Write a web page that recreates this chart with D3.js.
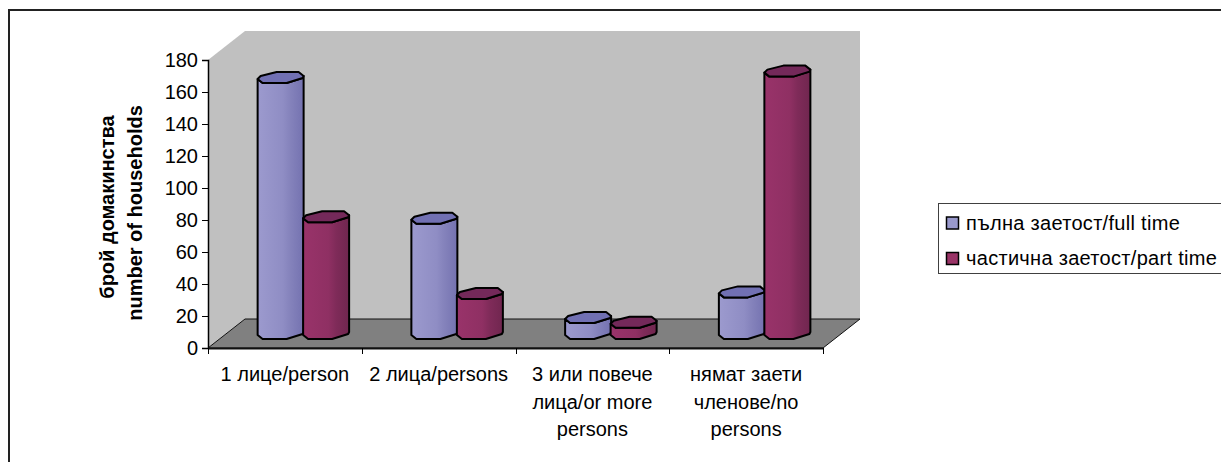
<!DOCTYPE html>
<html>
<head>
<meta charset="utf-8">
<script src="https://cdn.jsdelivr.net/npm/d3@7"></script>
<style>
html, body { margin: 0; padding: 0; background: #fff; overflow: hidden; }
text { font-family: "Liberation Sans", Arial, sans-serif; fill: #000; }
</style>
</head>
<body>
<div id="chart"></div>
<script>
// chart data
var categories = ["1 лице/person", "2 лица/persons", "3 или повече лица/or more persons", "нямат заети членове/no persons"];
var categoryLines = [["1 лице/person"], ["2 лица/persons"], ["3 или повече", "лица/or more", "persons"], ["нямат заети", "членове/no", "persons"]];
var seriesNames = ["пълна заетост/full time", "частична заетост/part time"];
var fullTime = [160, 72, 10, 26];
var partTime = [73, 25, 7, 164];
var yTicks = [0, 20, 40, 60, 80, 100, 120, 140, 160, 180];
var axisTitle = ["брой домакинства", "number of households"];

var w = 1221, h = 462;
var depth = {x: 37, y: -29};   // oblique offset front edge -> back wall

var svg = d3.select("#chart").append("svg")
    .attr("width", w)
    .attr("height", h)
    .style("display", "block");

// outer frame, runs off the right and bottom of the picture
svg.append("rect").attr("x", 9).attr("y", 10).attr("width", 1300).attr("height", 500)
    .attr("fill", "#fff").attr("stroke", "#222").attr("stroke-width", 2);

// scales
var x = d3.scaleBand().domain(categories).range([208, 823]);
var y = d3.scaleLinear().domain([0, 180]).range([348, 60]);
var inner = d3.scaleBand().domain([0, 1]).range([-45.5, 45.5]);

// gradients for the bar faces
var defs = svg.append("defs");
function gradient(id, stops) {
    var g = defs.append("linearGradient").attr("id", id);
    stops.forEach(function (s) {
        g.append("stop").attr("offset", s[0]).attr("stop-color", s[1]);
    });
}
gradient("blueFace", [[0, "#9c9ace"], [0.55, "#8f8dc4"], [0.72, "#8482bb"], [1, "#7472b0"]]);
gradient("redFace", [[0, "#99336a"], [0.55, "#8f3063"], [0.72, "#7f2b59"], [1, "#70264f"]]);
var topColor = ["#7170b3", "#74295a"];
var faces = ["url(#blueFace)", "url(#redFace)"];

// walls and floor
var x0 = x.range()[0], x1 = x.range()[1], yBase = y(0), yTop = y(180);
function pts(a) { return a.map(function (p) { return p.join(","); }).join(" "); }

svg.append("polygon")
    .attr("points", pts([[x0, yBase], [x0 + depth.x, yBase + depth.y], [x0 + depth.x, yTop + depth.y], [x0, yTop]]))
    .attr("fill", "#c0c0c0");
svg.append("polygon")
    .attr("points", pts([[x0 + depth.x, yBase + depth.y], [x1 + depth.x, yBase + depth.y], [x1 + depth.x, yTop + depth.y], [x0 + depth.x, yTop + depth.y]]))
    .attr("fill", "#c0c0c0");
svg.append("polygon")
    .attr("points", pts([[x0, yBase], [x1, yBase], [x1 + depth.x, yBase + depth.y], [x0 + depth.x, yBase + depth.y]]))
    .attr("fill", "#808080")
    .attr("stroke", "#111")
    .attr("stroke-width", 1);

// y axis
svg.append("g")
    .attr("transform", "translate(" + x0 + ",0)")
    .call(d3.axisLeft(y).tickValues(yTicks).tickSize(6).tickPadding(4))
    .call(function (g) {
        g.selectAll("text").style("font-size", "20px").attr("fill", "#000");
        g.selectAll("line").attr("stroke", "#000");
        g.select("path").attr("stroke", "#000").attr("stroke-width", 1.5);
    });

// x axis, ticks fall between the categories
var xAxis = svg.append("g");
xAxis.append("line").attr("x1", x0).attr("x2", x1).attr("y1", yBase + 0.5).attr("y2", yBase + 0.5)
    .attr("stroke", "#111").attr("stroke-width", 2);
xAxis.selectAll(".tick").data(d3.range(categories.length + 1)).enter().append("line")
    .attr("x1", function (i) { return Math.round(x0 + i * x.step()) + 0.5; })
    .attr("x2", function (i) { return Math.round(x0 + i * x.step()) + 0.5; })
    .attr("y1", yBase)
    .attr("y2", yBase + 6)
    .attr("stroke", "#000");

categories.forEach(function (c, i) {
    var t = svg.append("text")
        .attr("text-anchor", "middle")
        .style("font-size", "20px")
        .attr("y", 381);
    categoryLines[i].forEach(function (line, j) {
        t.append("tspan")
            .attr("x", x(c) + x.bandwidth() / 2)
            .attr("dy", j == 0 ? 0 : 27.5)
            .text(line);
    });
});

// y axis title
axisTitle.forEach(function (line, i) {
    svg.append("text")
        .attr("transform", "translate(" + (114 + i * 28) + "," + (207 + i * 6) + ") rotate(-90)")
        .attr("text-anchor", "middle")
        .style("font-size", "20px")
        .style("font-weight", "bold")
        .text(line);
});

// octagonal column outline, offsets from the column centre
var topOct = [[-23, 1.5], [-20, -1.5], [-4, -5.5], [18, -5.5], [23, -1.5], [22, 0.5], [6, 5.5], [-18, 5.5]];
var lowerOct = [[-23, 1.5], [-18, 5.5], [6, 5.5], [22, 0.5], [23, -1.5]];

function drawColumn(g, cx, yVal, yFloor, s) {
    var body = lowerOct.map(function (p) { return [cx + p[0], yVal + p[1]]; })
        .concat(lowerOct.slice().reverse().map(function (p) { return [cx + p[0], yFloor + p[1]]; }));
    g.append("polygon")
        .attr("points", pts(body))
        .attr("fill", faces[s])
        .attr("stroke", "#000")
        .attr("stroke-width", 2)
        .attr("stroke-linejoin", "round");
    g.append("polygon")
        .attr("points", pts(topOct.map(function (p) { return [cx + p[0], yVal + p[1]]; })))
        .attr("fill", topColor[s])
        .attr("stroke", "#000")
        .attr("stroke-width", 2)
        .attr("stroke-linejoin", "round");
}

// columns stand mid way into the floor
var seriesValues = [fullTime, partTime];
var barsG = svg.append("g");
categories.forEach(function (c, i) {
    [0, 1].forEach(function (s) {
        var cx = x(c) + x.bandwidth() / 2 + depth.x / 2 + inner(s) + inner.bandwidth() / 2;
        var shiftY = depth.y / 2;
        drawColumn(barsG, cx, y(seriesValues[s][i]) + shiftY, y(0) + shiftY, s);
    });
});

// legend
var legend = svg.append("g");
legend.append("rect").attr("x", 938.5).attr("y", 203.5).attr("width", 300).attr("height", 70)
    .attr("fill", "#fff").attr("stroke", "#404040");
seriesNames.forEach(function (name, i) {
    var ly = 223 + i * 35.5;
    legend.append("rect").attr("x", 946.5).attr("y", ly - 6).attr("width", 12).attr("height", 12)
        .attr("fill", ["#9999cc", "#993366"][i]).attr("stroke", "#000").attr("stroke-width", 1.5);
    legend.append("text").attr("x", 966).attr("y", ly + 6.5)
        .style("font-size", "20px").style("letter-spacing", "0.3px").text(name);
});
</script>
</body>
</html>
